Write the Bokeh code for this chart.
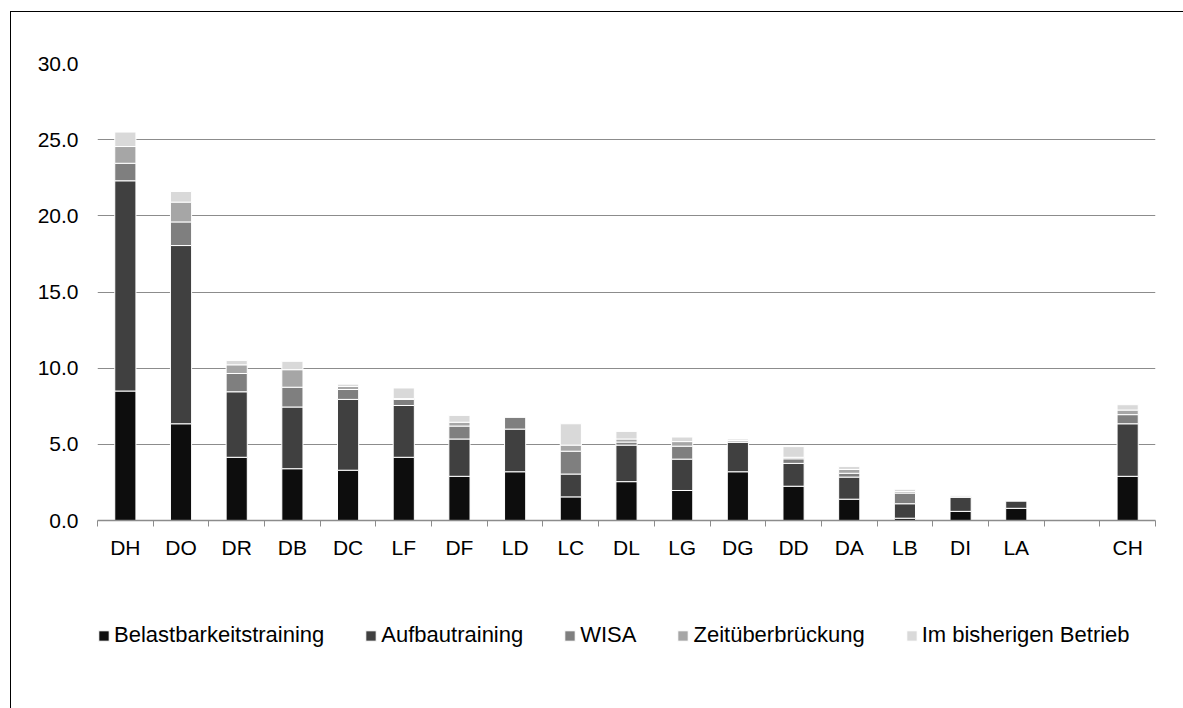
from bokeh.plotting import figure
from bokeh.layouts import column
from bokeh.models import (Range1d, FixedTicker, NumeralTickFormatter, Legend, LegendItem,
                          ColumnDataSource)
from bokeh.embed import file_html
from bokeh.resources import INLINE

# ---- data ----
categories = ["DH", "DO", "DR", "DB", "DC", "LF", "DF", "LD", "LC", "DL",
              "LG", "DG", "DD", "DA", "LB", "DI", "LA", "", "CH"]
belastbarkeit = [8.5, 6.35, 4.15, 3.4, 3.3, 4.15, 2.9, 3.2, 1.55, 2.55,
                 1.97, 3.2, 2.25, 1.4, 0.15, 0.6, 0.8, 0.0, 2.9]
aufbau = [13.8, 11.7, 4.3, 4.05, 4.65, 3.4, 2.45, 2.8, 1.5, 2.4,
          2.06, 1.95, 1.5, 1.45, 0.95, 0.95, 0.5, 0.0, 3.45]
wisa = [1.15, 1.55, 1.2, 1.3, 0.65, 0.4, 0.85, 0.8, 1.5, 0.2,
        0.85, 0.0, 0.3, 0.25, 0.7, 0.0, 0.0, 0.0, 0.6]
zeit = [1.1, 1.3, 0.57, 1.15, 0.2, 0.05, 0.25, 0.0, 0.4, 0.2,
        0.3, 0.1, 0.1, 0.25, 0.1, 0.0, 0.0, 0.0, 0.3]
bisher = [0.95, 0.7, 0.28, 0.55, 0.15, 0.7, 0.45, 0.0, 1.4, 0.5,
          0.3, 0.1, 0.7, 0.2, 0.15, 0.1, 0.0, 0.0, 0.35]
series_names = ["Belastbarkeitstraining", "Aufbautraining", "WISA",
                "Zeitüberbrückung", "Im bisherigen Betrieb"]
series_keys = ["belast", "aufbau", "wisa", "zeit", "bisher"]
colors = ["#0d0d0d", "#404040", "#7f7f7f", "#a6a6a6", "#d9d9d9"]
y_ticks = [0, 5, 10, 15, 20, 25, 30]

FONT = "Liberation Sans"
FS = "21px"

n = len(categories)
centers = [i + 0.5 for i in range(n)]
source = ColumnDataSource(dict(x=centers, cat=categories, belast=belastbarkeit,
                               aufbau=aufbau, wisa=wisa, zeit=zeit, bisher=bisher))

p = figure(width=1172, height=568, output_backend="svg", toolbar_location=None,
           x_range=Range1d(0, n), y_range=Range1d(0, 30),
           min_border_left=86, min_border_right=28, min_border_top=51,
           min_border_bottom=60)
p.outline_line_color = None
p.background_fill_color = "white"
p.border_fill_color = "white"

p.vbar_stack(series_keys, x="x", width=0.38, source=source,
             color=colors, line_color="white", line_width=1)

# y axis
p.yaxis.ticker = FixedTicker(ticks=y_ticks)
p.yaxis.formatter = NumeralTickFormatter(format="0.0")
p.yaxis.axis_line_color = None
p.yaxis.major_tick_line_color = None
p.yaxis.minor_tick_line_color = None
p.yaxis.major_tick_in = 0
p.yaxis.major_tick_out = 0
p.yaxis.major_label_standoff = 19
p.yaxis.major_label_text_font = FONT
p.yaxis.major_label_text_font_size = FS
p.yaxis.major_label_text_color = "black"
p.ygrid.ticker = FixedTicker(ticks=y_ticks)
p.ygrid.grid_line_color = "#8c8c8c"
p.ygrid.grid_line_width = 1
p.xgrid.grid_line_color = None

# x axis: labels at centers, tick marks between categories
p.xaxis.ticker = FixedTicker(ticks=centers, minor_ticks=list(range(n + 1)))
p.xaxis.major_label_overrides = {c: lab for c, lab in zip(centers, categories)}
p.xaxis.major_tick_line_color = None
p.xaxis.major_tick_in = 0
p.xaxis.major_tick_out = 0
p.xaxis.minor_tick_line_color = "#8c8c8c"
p.xaxis.minor_tick_in = 0
p.xaxis.minor_tick_out = 6
p.xaxis.axis_line_color = "#8c8c8c"
p.xaxis.axis_line_width = 1.5
p.xaxis.major_label_standoff = 9
p.xaxis.major_label_text_font = FONT
p.xaxis.major_label_text_font_size = FS
p.xaxis.major_label_text_color = "black"

# legend strip (separate figure below the chart; its bars lie outside its view)
lg = figure(width=1172, height=128, output_backend="svg", toolbar_location=None,
            x_range=Range1d(0, n), y_range=Range1d(1000, 1001),
            min_border_left=86, min_border_right=28, min_border_top=0, min_border_bottom=0)
lg.axis.visible = False
lg.grid.visible = False
lg.outline_line_color = None
lg.background_fill_color = "white"
lg.border_fill_color = "white"
legend_renderers = lg.vbar_stack(series_keys, x="x", width=0.38, source=source,
                                 color=colors, line_color="white", line_width=1)
items = [LegendItem(label=name, renderers=[r]) for name, r in zip(series_names, legend_renderers)]
legend = Legend(items=items, orientation="horizontal", location=(0, 60),
                label_text_font=FONT, label_text_font_size="22px", label_text_color="black",
                glyph_width=13, glyph_height=13, label_standoff=4, spacing=40,
                border_line_color=None, background_fill_alpha=0, padding=0, margin=0)
lg.add_layout(legend, "center")

layout = column(p, lg, spacing=0)
layout.margin = (12, 0, 0, 11)
layout.styles = {"outline": "1px solid black"}

open("out.html", "w").write(file_html(layout, INLINE))
